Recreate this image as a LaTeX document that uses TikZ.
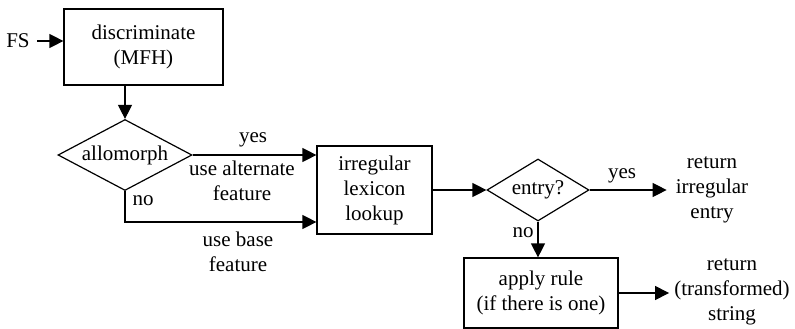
\documentclass[tikz,border=0pt]{standalone}
\usepackage{fontspec}
\setmainfont{Liberation Serif}
\usetikzlibrary{shapes.geometric,arrows.meta}
\begin{document}
\begin{tikzpicture}[x=1pt,y=-1pt,
  every node/.style={font=\fontsize{21}{25}\selectfont, align=center},
  box/.style={draw, line width=1.2pt, inner sep=0pt},
  dia/.style={draw, diamond, line width=1.2pt, inner sep=0pt},
  txt/.style={inner sep=1pt},
  arr/.style={line width=1.2pt, -{Triangle[length=14pt,width=14pt]}},
  ln/.style={line width=1.2pt}]
\useasboundingbox (0,0) rectangle (795,329);
\node[box, minimum width=159pt, minimum height=76pt] (disc) at (143.5,47) {discriminate\\(MFH)};
\node[txt] (fs) at (18,41) {FS};
\node[dia, minimum width=134pt, minimum height=71pt, label={center:allomorph}] (allo) at (125,155) {};
\node[box, minimum width=115pt, minimum height=88pt] (irr) at (374.5,190) {irregular\\lexicon\\lookup};
\node[dia, minimum width=102pt, minimum height=62pt, label={center:entry?}] (entry) at (538,190) {};
\node[box, minimum width=154pt, minimum height=70pt] (apply) at (541,293) {apply rule\\(if there is one)};
\node[txt] (ret1) at (712,190) {return\\irregular\\entry};
\node[txt] (ret2) at (732,292) {return\\(transformed)\\string};
\node[txt] (yes1) at (253,140) {yes};
\node[txt] (alt) at (242,181) {use alternate\\feature};
\node[txt] (no1) at (143,201) {no};
\node[txt] (base) at (238,252) {use base\\feature};
\node[txt] (yes2) at (622,176) {yes};
\node[txt] (no2) at (523,233) {no};
\coordinate (fsend) at (37,41);
\draw[arr] (fsend) -- (fsend -| disc.west);
\draw[arr] (disc.south -| allo.north) -- (allo.north);
\draw[arr] (allo.east) -- (allo.east -| irr.west);
\draw[arr] (allo.south) |- ([yshift=-32pt]irr.west);
\draw[arr] (irr.east) -- (entry.west);
\draw[arr] (entry.east) -- ([xshift=-8pt]entry.east -| ret1.west);
\draw[arr] (entry.south) -- (entry.south |- apply.north);
\draw[arr] (apply.east) -- ([xshift=-4pt]apply.east -| ret2.west);
\end{tikzpicture}
\end{document}
